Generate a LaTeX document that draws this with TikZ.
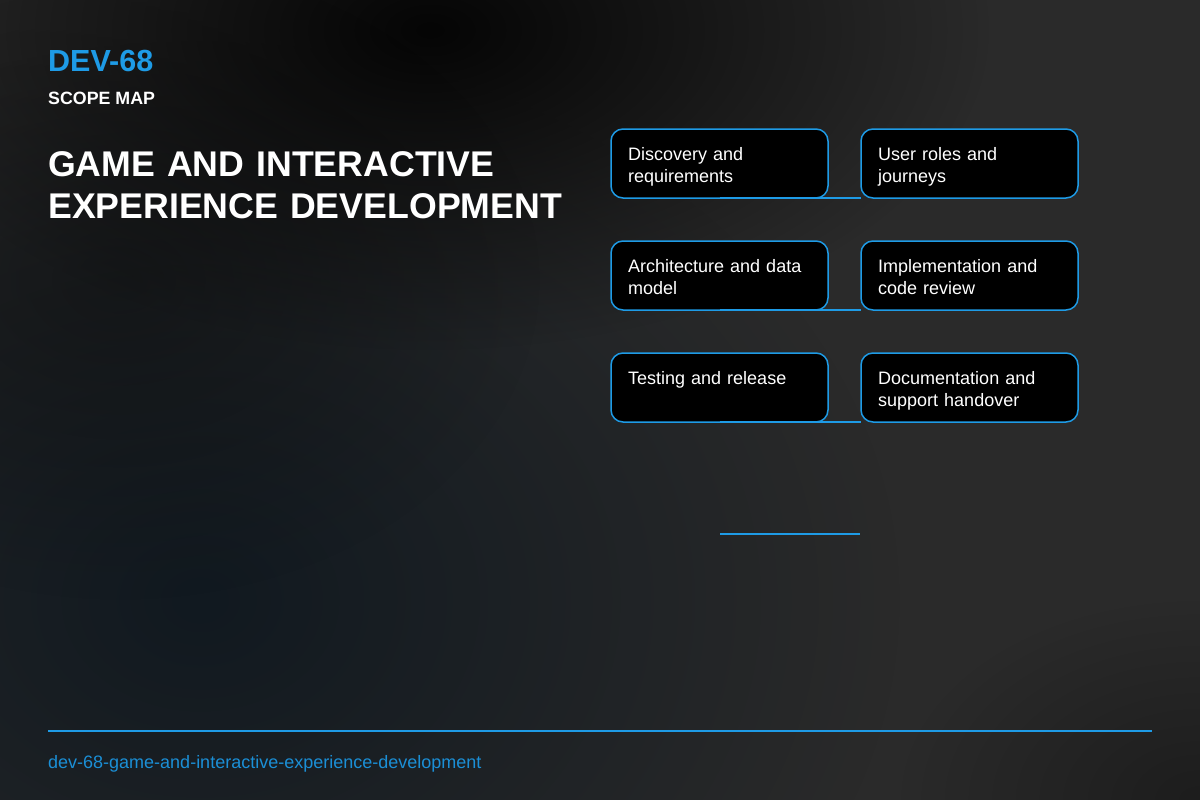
\documentclass[tikz,border=0pt]{standalone}
\usepackage{fontspec}
\setmainfont{Liberation Sans}
\usetikzlibrary{fadings}
\definecolor{accent}{HTML}{1E9BE6}
\definecolor{footc}{HTML}{1B8FD6}
\definecolor{bgbase}{HTML}{2A2A2A}
\definecolor{bgblue}{HTML}{111920}
\definecolor{bgdark}{HTML}{050505}
\tikzfading[name=softglow, inner color=transparent!0, outer color=transparent!100]
\tikzset{
  box/.style={draw=accent, line width=1.5pt, fill=black, rounded corners=12pt,
    minimum width=217pt, minimum height=69pt, inner sep=0pt, outer sep=0pt, anchor=north west},
  boxtext/.style={text=white, inner sep=0pt, text width=200pt, align=left,
    anchor=base west, font=\fontsize{18}{22}\selectfont},
  conn/.style={draw=accent, line width=1.6pt},
}
\begin{document}
\begin{tikzpicture}[x=1pt,y=-1pt]
\useasboundingbox (0,0) rectangle (1200,800);
% background
\fill[bgbase] (0,0) rectangle (1200,800);
\begin{scope}
\clip (0,0) rectangle (1200,800);
\fill[bgblue, path fading=softglow] (200,600) ellipse [x radius=700, y radius=560];
\fill[bgdark, path fading=softglow] (430,30) ellipse [x radius=560, y radius=320];
\fill[bgdark, path fading=softglow, opacity=0.4] (120,280) ellipse [x radius=420, y radius=320];
\fill[bgdark, path fading=softglow, opacity=0.35] (1200,800) ellipse [x radius=300, y radius=200];
\end{scope}
% header
\node[anchor=base west, inner sep=0pt, text=accent, font=\fontsize{30.5}{36}\selectfont\bfseries] (id) at (48,72) {DEV-68};
\node[anchor=base west, inner sep=0pt, text=white, font=\fontsize{17.8}{21}\selectfont\bfseries] (kind) at (48,104) {SCOPE MAP};
\node[anchor=base west, inner sep=0pt, text=white, text width=560pt, align=left, font=\fontsize{35.7}{42}\selectfont\bfseries] (title) at (48,176) {GAME AND INTERACTIVE\\EXPERIENCE DEVELOPMENT};
% boxes
\node[box] (b1) at (611,129) {};
\node[box] (b2) at (861,129) {};
\node[box] (b3) at (611,241) {};
\node[box] (b4) at (861,241) {};
\node[box] (b5) at (611,353) {};
\node[box] (b6) at (861,353) {};
\node[boxtext] (t1) at ([xshift=17pt,yshift=-31pt]b1.north west) {Discovery and\\requirements};
\node[boxtext] (t2) at ([xshift=17pt,yshift=-31pt]b2.north west) {User roles and\\journeys};
\node[boxtext] (t3) at ([xshift=17pt,yshift=-31pt]b3.north west) {Architecture and data\\model};
\node[boxtext] (t4) at ([xshift=17pt,yshift=-31pt]b4.north west) {Implementation and\\code review};
\node[boxtext] (t5) at ([xshift=17pt,yshift=-31pt]b5.north west) {Testing and release};
\node[boxtext] (t6) at ([xshift=17pt,yshift=-31pt]b6.north west) {Documentation and\\support handover};
% connectors
\draw[conn] (b1.south) -- (b2.south west);
\draw[conn] (b3.south) -- (b4.south west);
\draw[conn] (b5.south) -- (b6.south west);
\coordinate (e1) at (720,534);
\coordinate (e2) at (860,534);
\draw[conn] (e1) -- (e2);
% footer
\coordinate (f1) at (48,731);
\coordinate (f2) at (1152,731);
\draw[conn] (f1) -- (f2);
\node[anchor=base west, inner sep=0pt, text=footc, font=\fontsize{18}{21}\selectfont] (slug) at (48,768) {dev-68-game-and-interactive-experience-development};
\end{tikzpicture}
\end{document}
